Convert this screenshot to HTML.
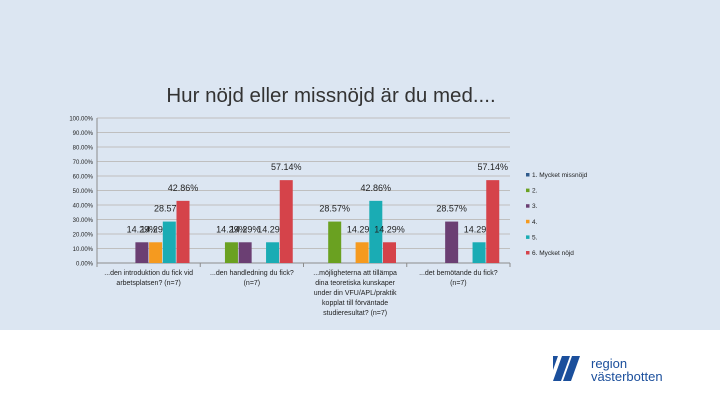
<!DOCTYPE html>
<html><head><meta charset="utf-8"><style>
body{margin:0;width:720px;height:405px;overflow:hidden;background:#fff;font-family:"Liberation Sans",sans-serif;}
#bg{position:absolute;left:0;top:0;width:720px;height:330px;background:#dce6f2;}
svg{position:absolute;left:0;top:0;}
</style></head><body>
<div id="bg"></div>
<svg id="chart" width="720" height="405">
<text x="331" y="102" text-anchor="middle" font-size="20.5" fill="#333">Hur nöjd eller missnöjd är du med....</text>
</svg>
<svg width="720" height="405">
<polygon points="553,381 562,356 570,356 561,381" fill="#1b4f9c"/>
<polygon points="563,381 572,356 580,356 571,381" fill="#1b4f9c"/>
<polygon points="553,356 558,356 553,370" fill="#1b4f9c"/>
<text x="591" y="368" font-size="13" fill="#1b4f9c">region</text>
<text x="591" y="381" font-size="13" fill="#1b4f9c">västerbotten</text>
</svg>
<script>
const categories=[["...den introduktion du fick vid","arbetsplatsen? (n=7)"],["...den handledning du fick?","(n=7)"],["...möjligheterna att tillämpa","dina teoretiska kunskaper","under din VFU/APL/praktik","kopplat till förväntade","studieresultat? (n=7)"],["...det bemötande du fick?","(n=7)"]];
const seriesNames=["1. Mycket missnöjd","2.","3.","4.","5.","6. Mycket nöjd"];
const seriesColors=["#2f5b8c","#6aa121","#6b3f73","#f59a1f","#1aacb4","#d5434a"];
const s1=[0,0,0,0];
const s2=[0,14.29,28.57,0];
const s3=[14.29,14.29,0,28.57];
const s4=[14.29,0,14.29,0];
const s5=[28.57,14.29,42.86,14.29];
const s6=[42.86,57.14,14.29,57.14];
const series=[s1,s2,s3,s4,s5,s6];
const yTicks=[0,10,20,30,40,50,60,70,80,90,100];
const NS="http://www.w3.org/2000/svg";
const svg=document.getElementById('chart');
const x0=97,x1=510,yb=263,yt=118;
const gw=(x1-x0)/categories.length;
const y=v=>yb-(v/100)*(yb-yt);
const bx=(g,i)=>x0+g*gw+11+i*13.7;
function mk(t,a){const e=document.createElementNS(NS,t);for(const k in a)e.setAttribute(k,a[k]);svg.appendChild(e);return e;}
yTicks.forEach(t=>{
 const l=mk('line',{x1:x0,x2:x1,y1:y(t),y2:y(t),stroke:t===0?'#8c8c8c':'#bfbfbf','stroke-width':1});
 
 
 const tx=mk('text',{x:93,y:y(t)+2.5,'text-anchor':'end','font-size':6,fill:'#222'});
 tx.textContent=t.toFixed(2)+'%';
 
 
});
const ax=mk('line',{x1:x0,x2:x0,y1:yt,y2:yb,stroke:'#8c8c8c'});


for(let g=0;g<=categories.length;g++){const tk=mk('line',{x1:x0+g*gw,x2:x0+g*gw,y1:yb,y2:yb+4,stroke:'#8c8c8c'});
 
 }
categories.forEach((c,g)=>{
 const tx=mk('text',{'text-anchor':'middle','font-size':7,fill:'#222'});
 
 
 c.forEach((ln,k)=>{const ts=document.createElementNS(NS,'tspan');ts.setAttribute('x',x0+g*gw+gw/2);ts.setAttribute('y',275+k*10);ts.textContent=ln;tx.appendChild(ts);});
});
series.forEach((s,i)=>{
 s.forEach((v,g)=>{
  if(v<=0)return;
  const r=mk('rect',{x:bx(g,i),y:y(v),width:13,height:yb-y(v),fill:seriesColors[i]});
  
  
  const t=mk('text',{x:bx(g,i)+6.5,y:y(v)-10,'text-anchor':'middle','font-size':9,fill:'#222'});
  t.textContent=v.toFixed(2)+'%';
  
  
 });
 const ly=175+i*15.6;
 const lr=mk('rect',{x:526,y:ly-2,width:3.5,height:3.5,fill:seriesColors[i]});
 
 
 const lt=mk('text',{x:532,y:ly+2,'font-size':6.5,fill:'#222'});
 lt.textContent=seriesNames[i];
 
 
});
</script>
</body></html>
